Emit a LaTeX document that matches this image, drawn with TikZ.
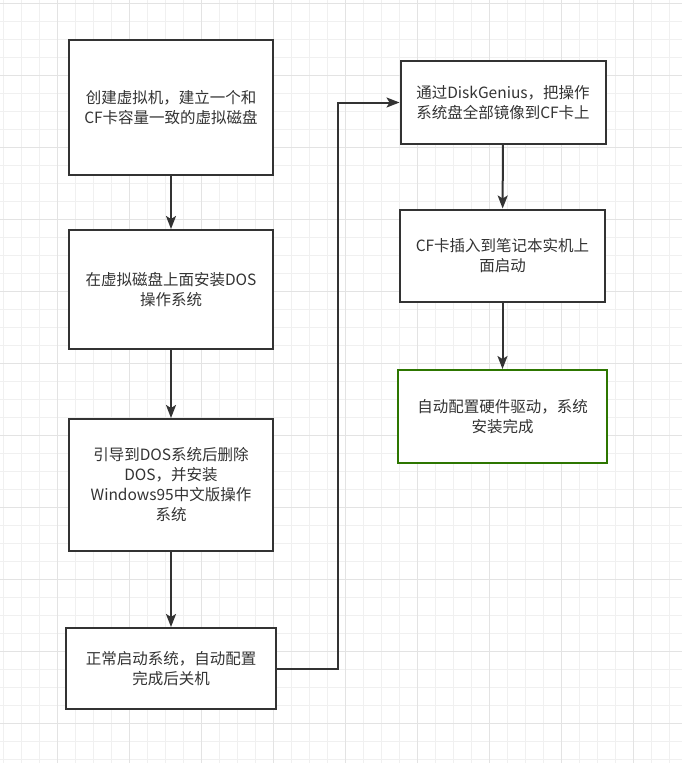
\documentclass[tikz,border=0pt]{standalone}
\usepackage{fontspec}
\setmainfont{Noto Sans CJK SC}
\usetikzlibrary{arrows.meta,positioning}
\definecolor{edgegray}{HTML}{333333}
\definecolor{donegreen}{HTML}{2D7600}
\definecolor{gridminor}{HTML}{F0F0F0}
\definecolor{gridmajor}{HTML}{E3E3E3}

\begin{document}
\begin{tikzpicture}[
  x=1pt, y=-1pt,
  box/.style={draw=edgegray, line width=2pt, fill=white, align=center, text=edgegray,
    inner sep=0pt, font=\fontsize{15.5}{20}\selectfont},
  endbox/.style={box, draw=donegreen},
  flow/.style={draw=edgegray, line width=2pt, ->},
  >={Stealth[length=13pt, width=10pt, inset=3pt]}
]
\useasboundingbox (0,0) rectangle (682,763);
\fill[white] (0,0) rectangle (682,763);
% background grid
\foreach \i in {0,...,37} \draw[gridminor, line width=1pt] ({3.7+18*\i},0) -- ({3.7+18*\i},763);
\foreach \j in {0,...,42} \draw[gridminor, line width=1pt] (0,{3.3+18*\j}) -- (682,{3.3+18*\j});
\foreach \i in {3,7,...,35} \draw[gridmajor, line width=1pt] ({3.7+18*\i},0) -- ({3.7+18*\i},763);
\foreach \j in {0,4,...,40} \draw[gridmajor, line width=1pt] (0,{3.3+18*\j}) -- (682,{3.3+18*\j});

% left column
\node[box, minimum width=204pt, minimum height=135pt] (vm) at (171,107.5) {创建虚拟机，建立一个和\\CF卡容量一致的虚拟磁盘};
\node[box, minimum width=204pt, minimum height=119pt] (dos) at (171,289.5) {在虚拟磁盘上面安装DOS\\操作系统};
\node[box, minimum width=204pt, minimum height=132pt] (win) at (171,485) {引导到DOS系统后删除\\DOS，并安装\\Windows95中文版操作\\系统};
\node[box, minimum width=210pt, minimum height=81pt] (shut) at (171,668.5) {正常启动系统，自动配置\\完成后关机};
% right column
\node[box, minimum width=205pt, minimum height=83pt] (image) at (503,102.5) {通过DiskGenius，把操作\\系统盘全部镜像到CF卡上};
\node[box, minimum width=205pt, minimum height=92pt] (boot) at (502.5,255.5) {CF卡插入到笔记本实机上\\面启动};
\node[endbox, minimum width=209pt, minimum height=93pt] (done) at (502.5,416.5) {自动配置硬件驱动，系统\\安装完成};

\coordinate (turn) at (338,0);
\draw[flow] (vm) -- (dos);
\draw[flow] (dos) -- (win);
\draw[flow] (win) -- (shut);
\draw[flow] (shut.east) -- (shut.east -| turn) |- (image.west);
\draw[flow] (image) -- (boot);
\draw[flow] (boot) -- (done);
\end{tikzpicture}
\end{document}
